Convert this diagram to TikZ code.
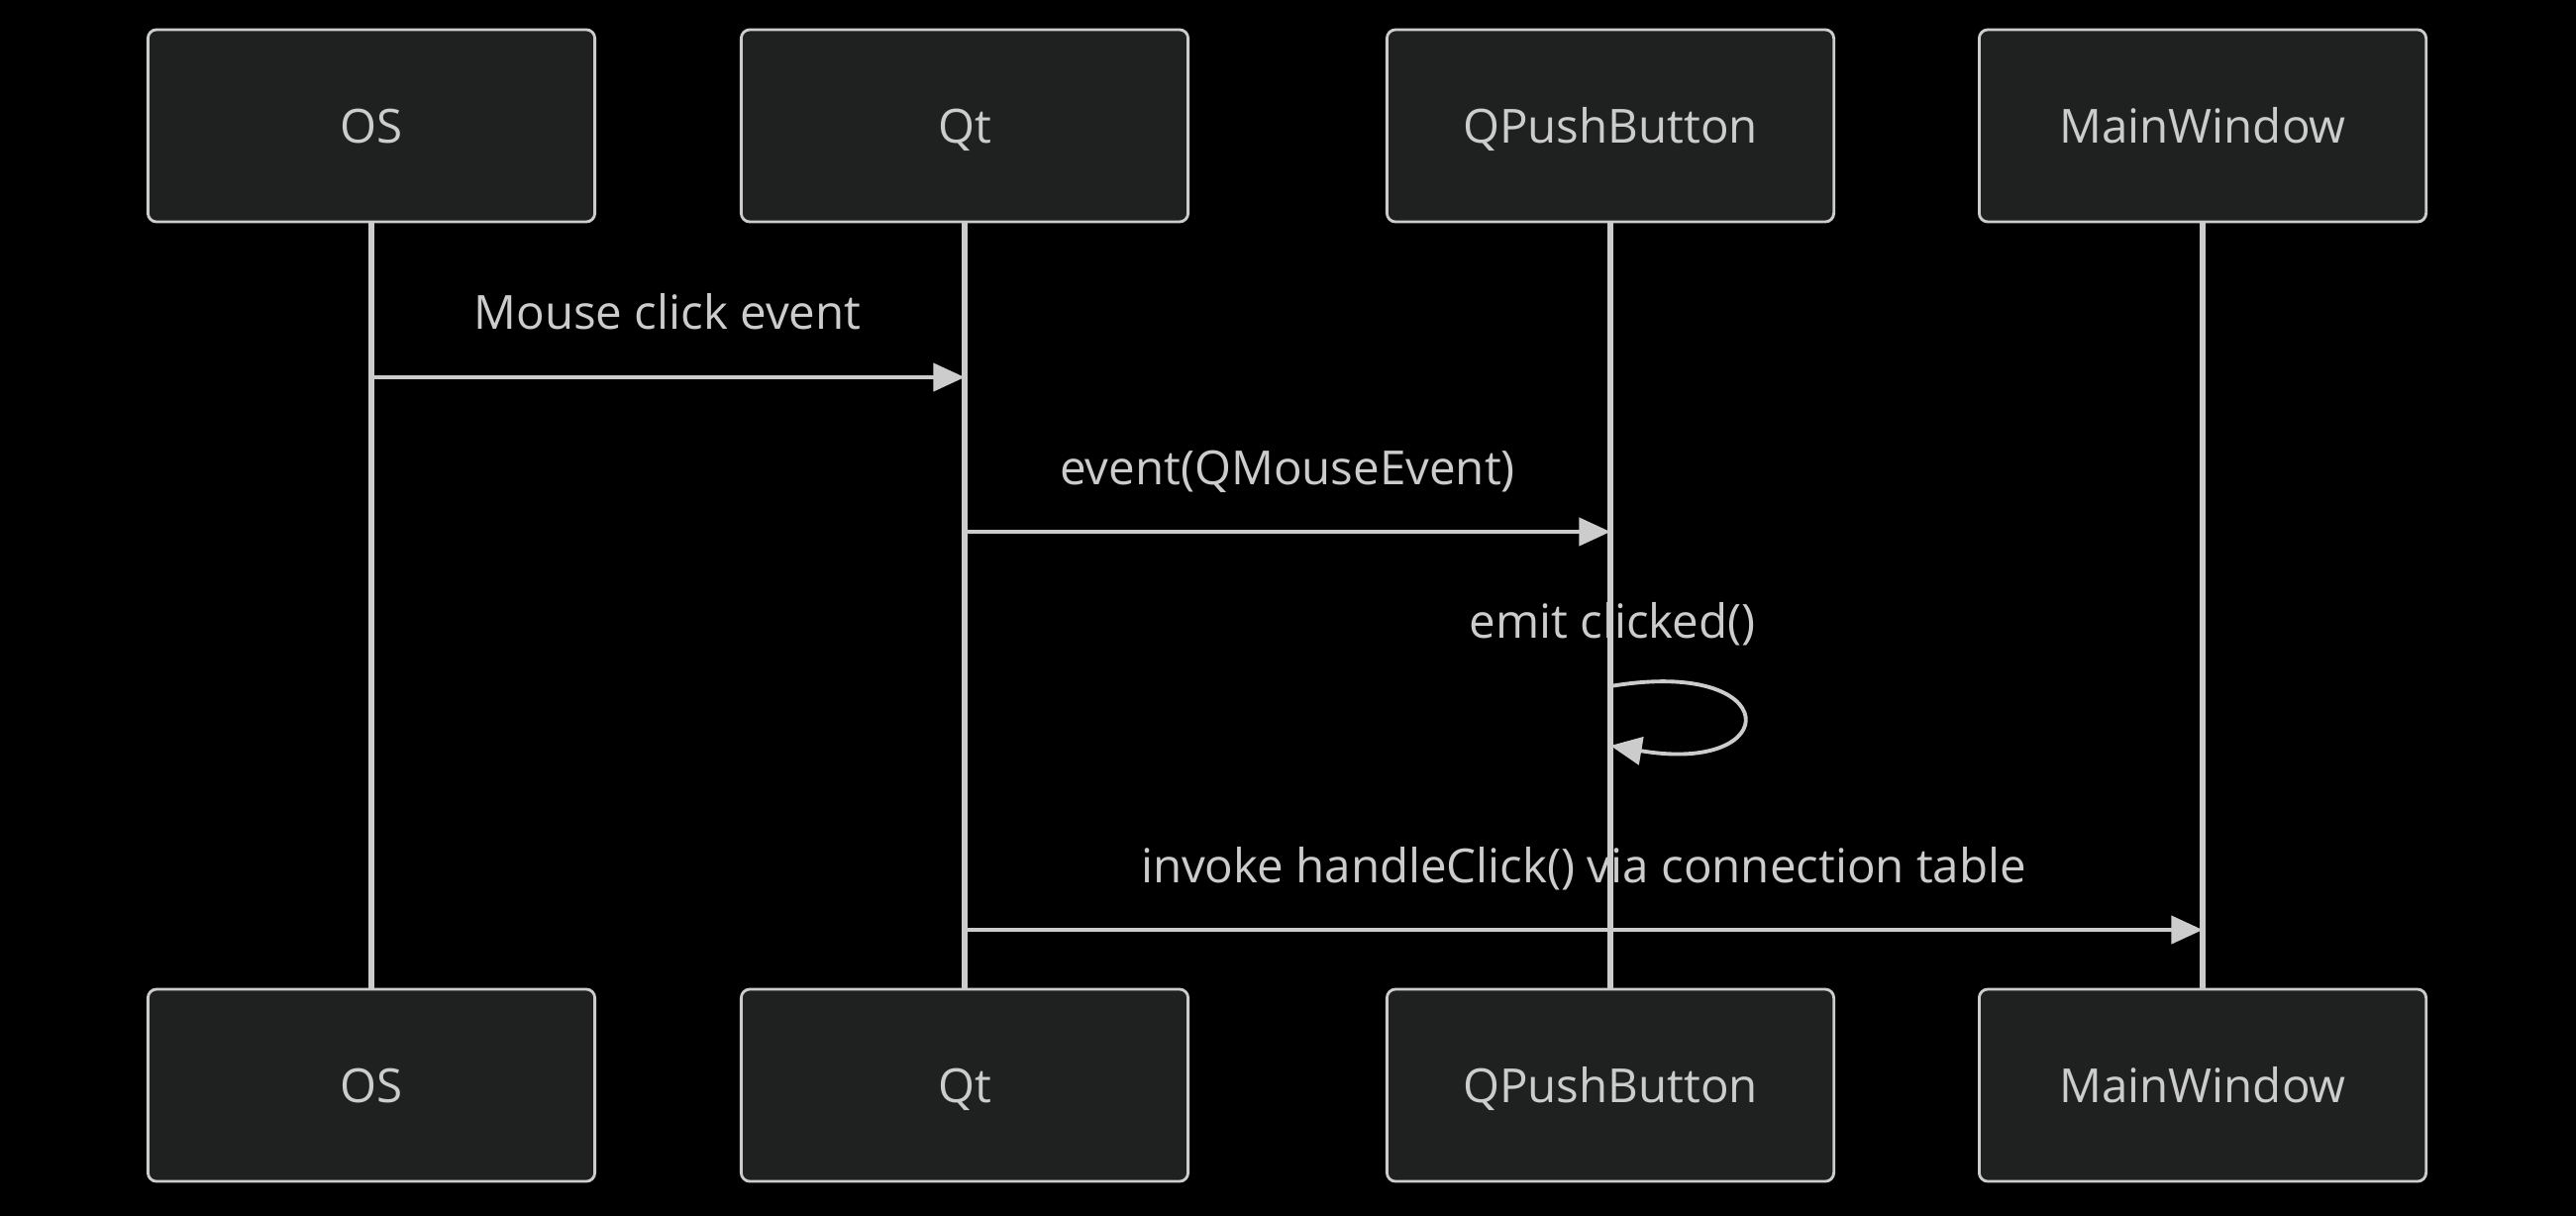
\documentclass[tikz,border=0pt]{standalone}
\usepackage{fontspec}
\setmainfont{Open Sans}
\usetikzlibrary{arrows.meta}
\definecolor{actorfill}{HTML}{1F2020}
\definecolor{actorline}{HTML}{CCCCCC}
\definecolor{msgline}{HTML}{CCCCCC}

\begin{document}
\begin{tikzpicture}[x=0.01cm, y=-0.01cm,
  actor/.style={draw=actorline, line width=0.8pt, fill=actorfill,
                rounded corners=2.5pt, minimum width=4.51cm,
                minimum height=1.94cm, text=actorline,
                text height=12pt, text depth=1.8pt,
                font=\fontsize{13.5}{16}\selectfont},
  lifeline/.style={draw=msgline, line width=1.8pt},
  msg/.style={-{Triangle[length=9pt, width=8pt]}, draw=msgline,
              line width=1.1pt},
  msglabel/.style={text=actorline, font=\fontsize{13.5}{16}\selectfont}
]

\useasboundingbox (0,0) rectangle (2601,1227);
\fill[black] (-20,-20) rectangle (2621,1247);

\node[actor] (os)  at (375,127)  {OS};
\node[actor] (qt)  at (974,127)  {Qt};
\node[actor] (qb)  at (1626,127) {QPushButton};
\node[actor] (mw)  at (2224,127) {MainWindow};

\node[actor] (osb) at (375,1096)  {OS};
\node[actor] (qtb) at (974,1096)  {Qt};
\node[actor] (qbb) at (1626,1096) {QPushButton};
\node[actor] (mwb) at (2224,1096) {MainWindow};

\draw[lifeline] (os) -- (osb);
\draw[lifeline] (qt) -- (qtb);
\draw[lifeline] (qb) -- (qbb);
\draw[lifeline] (mw) -- (mwb);

\coordinate (m1) at (0,381);
\coordinate (m2) at (0,537);
\coordinate (m3a) at (0,693);
\coordinate (m3b) at (0,753);
\coordinate (m4) at (0,939);

\node[msglabel] (l1) at (674,315)  {Mouse click event};
\node[msglabel] (l2) at (1300,476) {event(QMouseEvent)};
\node[msglabel] (l3) at (1628,630) {emit clicked()};
\node[msglabel] (l4) at (1599,877) {invoke handleClick() via connection table};

\draw[msg] (os |- m1) -- (qt |- m1);
\draw[msg] (qt |- m2) -- (qb |- m2);
\draw[msg] (qb |- m3a) .. controls +(177,-30) and +(177,30) .. (qb |- m3b);
\draw[msg] (qt |- m4) -- (mw |- m4);

\end{tikzpicture}
\end{document}
